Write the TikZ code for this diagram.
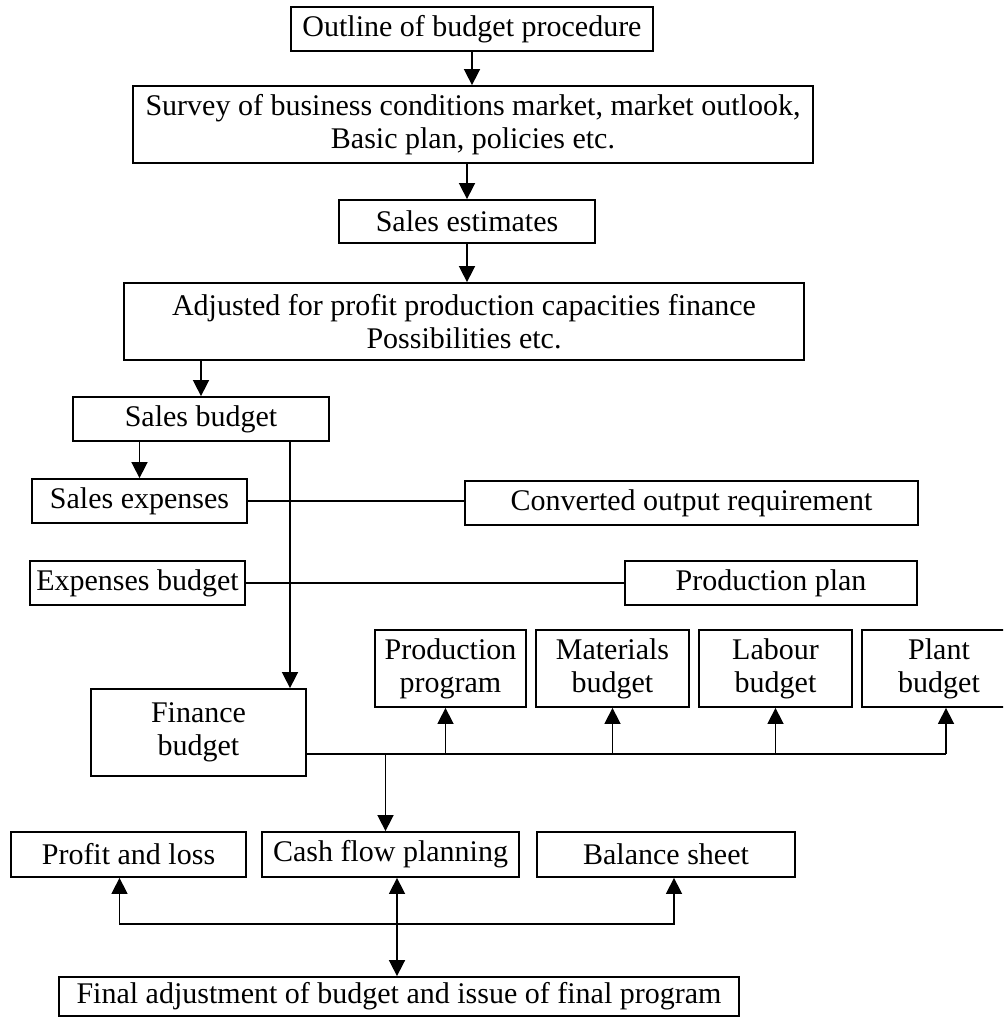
\documentclass[tikz,border=0pt]{standalone}
\usepackage{fontspec}
\setmainfont{Liberation Serif}
\usetikzlibrary{arrows.meta}
\begin{document}
\begin{tikzpicture}[x=0.5pt, y=-0.5pt, line width=0.8pt,
  box/.style={draw, line width=0.9pt, inner sep=0pt, align=center,
    font=\fontsize{15}{16.5}\selectfont},
  arr/.style={-{Triangle[length=8pt, width=8pt]}},
  both/.style={{Triangle[length=8pt, width=8pt]}-{Triangle[length=8pt, width=8pt]}}]
  \useasboundingbox (0,0) rectangle (1003,1018);
  \begin{scope}
  \clip (0,0) rectangle (1003,1018);
  % main column
  \node[box, minimum width=181pt, minimum height=22pt] (outline) at (472,29) {Outline of budget procedure};
  \node[box, minimum width=340pt, minimum height=38.5pt] (survey) at (473,124.5) {Survey of business conditions market, market outlook,\\Basic plan, policies etc.};
  \node[box, minimum width=128pt, minimum height=21.5pt] (estimates) at (467,221.5) {Sales estimates};
  \node[box, minimum width=340pt, minimum height=38.5pt] (adjusted) at (464,321.5) {Adjusted for profit production capacities finance\\Possibilities etc.};
  \node[box, minimum width=128pt, minimum height=22pt] (salesbud) at (201,419) {Sales budget};
  \node[box, minimum width=107.5pt, minimum height=22pt] (salesexp) at (139.5,501) {Sales expenses};
  \node[box, minimum width=226.5pt, minimum height=22pt] (converted) at (691.5,503) {Converted output requirement};
  \node[box, minimum width=107.5pt, minimum height=22pt] (expbud) at (137.5,583) {Expenses budget};
  \node[box, minimum width=146pt, minimum height=22pt] (prodplan) at (771,583) {Production plan};
  \node[box, minimum width=107.5pt, minimum height=43.5pt] (finance) at (198.5,732.5) {Finance\\budget};
  % functional budgets
  \node[box, minimum width=75.5pt, minimum height=38.5pt] (prodprog) at (450.5,668.5) {Production\\program};
  \node[box, minimum width=76.5pt, minimum height=38.5pt] (materials) at (612.5,668.5) {Materials\\budget};
  \node[box, minimum width=76.5pt, minimum height=38.5pt] (labour) at (775.5,668.5) {Labour\\budget};
  \node[box, minimum width=77pt, minimum height=38.5pt] (plant) at (939,668.5) {Plant\\budget};
  % summaries
  \node[box, minimum width=117.5pt, minimum height=22.5pt] (profit) at (128.5,854.5) {Profit and loss};
  \node[box, minimum width=128.5pt, minimum height=22.5pt] (cashflow) at (390.5,854.5) {Cash flow planning};
  \node[box, minimum width=129pt, minimum height=22.5pt] (balance) at (666,854.5) {Balance sheet};
  \node[box, minimum width=340pt, minimum height=19.5pt] (final) at (399,996.5) {Final adjustment of budget and issue of final program};
  \coordinate (split) at (290,441);
  \coordinate (busL) at (306,754);
  \coordinate (busR) at (946,754);
  \coordinate (lowbus) at (397,924);
  % connectors
  \draw[arr] (outline) -- (outline |- survey.north);
  \draw[arr] (estimates.north |- survey.south) -- (estimates.north);
  \draw[arr] (estimates) -- (estimates |- adjusted.north);
  \draw[arr] (salesbud.north |- adjusted.south) -- (salesbud.north);
  \draw[arr] (salesexp.north |- salesbud.south) -- (salesexp.north);
  \draw[arr] (split) -- (split |- finance.north);
  \draw (salesexp.east) -- (salesexp.east -| converted.west);
  \draw (expbud.east) -- (expbud.east -| prodplan.west);
  \draw (busL) -- (busR);
  \draw[arr] ([xshift=-2.5pt]prodprog.south |- busL) -- ([xshift=-2.5pt]prodprog.south);
  \draw[arr] (materials.south |- busL) -- (materials.south);
  \draw[arr] (labour.south |- busL) -- (labour.south);
  \draw[arr] (busR) -- (busR |- plant.south);
  \draw[arr] ([xshift=-2.5pt]cashflow.north |- busL) -- ([xshift=-2.5pt]cashflow.north);
  \draw[both] ([xshift=-4.5pt]profit.south) |- (lowbus) -| ([xshift=4pt]balance.south);
  \draw[both] (lowbus |- cashflow.south) -- (lowbus |- final.north);
  \end{scope}
\end{tikzpicture}
\end{document}
